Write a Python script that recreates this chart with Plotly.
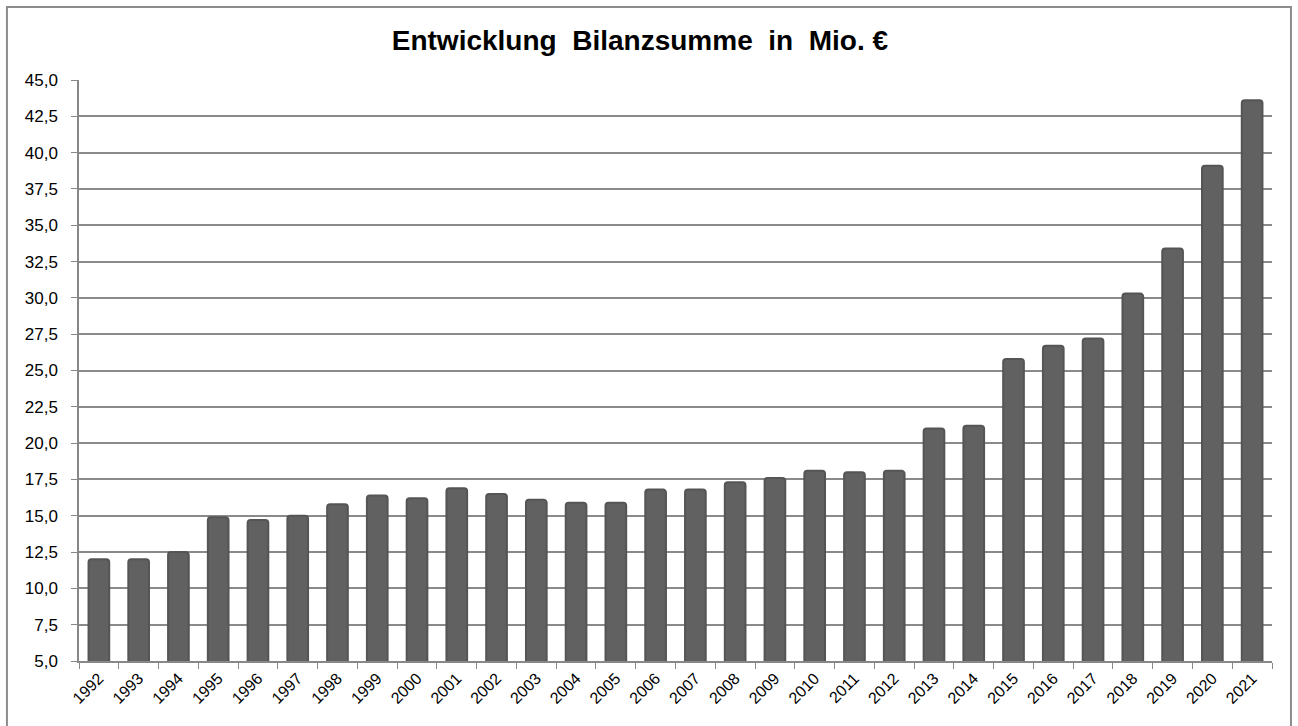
import plotly.graph_objects as go

# Bilanzsumme in Mio. EUR
years = [str(y) for y in range(1992, 2022)]
values = [12.0, 12.0, 12.5, 14.9, 14.7, 15.0, 15.8, 16.4, 16.2, 16.9,
          16.5, 16.1, 15.9, 15.9, 16.8, 16.8, 17.3, 17.6, 18.1, 18.0,
          18.1, 21.0, 21.2, 25.8, 26.7, 27.2, 30.3, 33.4, 39.1, 43.6]
y_ticks = [5 + 2.5 * i for i in range(17)]

fig = go.Figure()

fig.add_trace(go.Bar(
    x=years,
    y=values,
    marker=dict(color='#616161', line=dict(color='#555555', width=2), cornerradius=3),
    width=0.52,
    hoverinfo='x+y'
))

fig.update_layout(
    title=dict(text='<b>Entwicklung  Bilanzsumme  in  Mio. €</b>', x=0.493, xanchor='center',
               y=0.945, yanchor='middle', font=dict(size=28, color='#000000')),
    width=1298,
    height=726,
    margin=dict(l=79, r=26, t=80, b=65),
    plot_bgcolor='#ffffff',
    paper_bgcolor='#ffffff',
    font=dict(family='Liberation Sans, Arial, sans-serif', color='#000000', size=17),
    separators=',.',
    showlegend=False,
    shapes=[dict(type='rect', xref='paper', yref='paper',
                 x0=-0.0604, x1=1.0159, y0=-0.2, y1=1.1256,
                 line=dict(color='#8c8c8c', width=2), fillcolor='rgba(0,0,0,0)',
                 layer='below')]
)

fig.update_xaxes(
    type='category',
    tickangle=-45,
    tickfont=dict(size=16),
    tickson='boundaries',
    ticks='outside',
    ticklen=6,
    tickcolor='#888888',
    showline=True,
    linecolor='#888888',
    linewidth=1.5,
    showgrid=False
)

fig.update_yaxes(
    range=[5, 45],
    tickvals=y_ticks,
    tickformat='.1f',
    ticks='outside',
    ticklen=6,
    tickcolor='#888888',
    ticklabelstandoff=10,
    showline=True,
    linecolor='#888888',
    linewidth=1.5,
    showgrid=True,
    gridcolor='#8a8a8a',
    gridwidth=1.5,
    zeroline=False,
    tickfont=dict(size=17)
)

fig.write_html("out.html", config={'displayModeBar': False},
               post_script="document.body.style.margin='0';")
